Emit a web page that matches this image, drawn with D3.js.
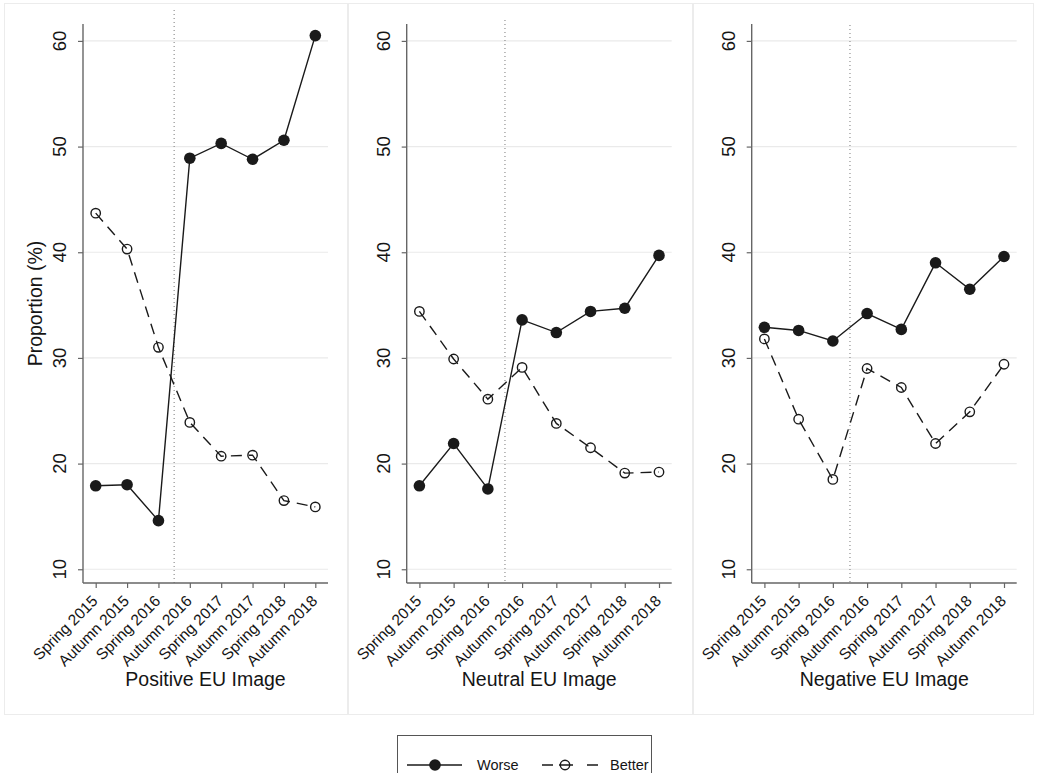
<!DOCTYPE html>
<html>
<head>
<meta charset="utf-8">
<script src="https://cdn.jsdelivr.net/npm/d3@7"></script>
<style>
  body { margin: 0; background: #ffffff; }
  text { font-family: "Liberation Sans", Arial, Helvetica, sans-serif; fill: #151515; }
</style>
</head>
<body>
<script>
// ---- Data ----
const periods = ["Spring 2015", "Autumn 2015", "Spring 2016", "Autumn 2016",
                 "Spring 2017", "Autumn 2017", "Spring 2018", "Autumn 2018"];
const panelTitles = ["Positive EU Image", "Neutral EU Image", "Negative EU Image"];
const worsePositive  = [17.9, 18.0, 14.6, 48.9, 50.3, 48.8, 50.6, 60.5];
const betterPositive = [43.7, 40.3, 31.0, 23.9, 20.7, 20.8, 16.5, 15.9];
const worseNeutral   = [17.9, 21.9, 17.6, 33.6, 32.4, 34.4, 34.7, 39.7];
const betterNeutral  = [34.4, 29.9, 26.1, 29.1, 23.8, 21.5, 19.1, 19.2];
const worseNegative  = [32.9, 32.6, 31.6, 34.2, 32.7, 39.0, 36.5, 39.6];
const betterNegative = [31.8, 24.2, 18.5, 29.0, 27.2, 21.9, 24.9, 29.4];
const yTicks = [10, 20, 30, 40, 50, 60];
const seriesNames = ["Worse", "Better"];
const yTitle = "Proportion (%)";

const worseSeries = [worsePositive, worseNeutral, worseNegative];
const betterSeries = [betterPositive, betterNeutral, betterNegative];

// ---- Layout ----
const W = 1038, H = 773;
const plotX = [[83, 328], [406.7, 671.7], [751.7, 1016.7]];
const panelBox = [[4, 3, 347, 714], [348, 3, 692, 714], [693, 3, 1033, 714]];
const dotTop = [10, 20, 25];
const plotTop = 24, plotBottom = 583;
const pad = 12.7;

const svg = d3.select("body").append("svg").attr("width", W).attr("height", H);

svg.append("rect").attr("x", 0).attr("y", 0).attr("width", W).attr("height", H).attr("fill", "#fff");

const y = d3.scaleLinear().domain([8.7, 61.6]).range([plotBottom, plotTop]);

panelTitles.forEach((title, i) => {
  const [bx0, by0, bx1, by1] = panelBox[i];
  svg.append("rect")
    .attr("x", bx0 + 0.5).attr("y", by0 + 0.5)
    .attr("width", bx1 - bx0).attr("height", by1 - by0)
    .attr("fill", "#fff").attr("stroke", "#ececec").attr("stroke-width", 1);

  const [x0, x1] = plotX[i];
  const x = d3.scalePoint().domain(periods).range([x0 + pad, x1 - pad]);
  const g = svg.append("g");

  // gridlines
  g.selectAll(".grid").data(yTicks).enter().append("line")
    .attr("x1", x0).attr("x2", x1)
    .attr("y1", d => y(d)).attr("y2", d => y(d))
    .attr("stroke", "#eaeaea").attr("stroke-width", 1.2);

  // dotted reference line between Spring 2016 and Autumn 2016
  const xm = (x(periods[2]) + x(periods[3])) / 2;
  g.append("line")
    .attr("x1", xm).attr("x2", xm).attr("y1", dotTop[i]).attr("y2", plotBottom)
    .attr("stroke", "#7a7a7a").attr("stroke-width", 1).attr("stroke-dasharray", "1,3");

  // y axis
  const yAxis = d3.axisLeft(y).tickValues(yTicks).tickSize(5).tickFormat("");
  const ya = g.append("g").attr("transform", `translate(${x0},0)`).call(yAxis);
  ya.select(".domain").remove();
  ya.selectAll(".tick line").attr("stroke", "#666").attr("stroke-width", 1.2);
  g.append("line").attr("x1", x0).attr("x2", x0).attr("y1", plotTop).attr("y2", plotBottom)
    .attr("stroke", "#666").attr("stroke-width", 1.4);
  g.selectAll(".ylab").data(yTicks).enter().append("text")
    .attr("transform", d => `translate(${x0 - 17},${y(d)}) rotate(-90)`)
    .attr("text-anchor", "middle")
    .style("font-size", "18.5px")
    .text(d => d);

  // x axis
  const xAxis = d3.axisBottom(x).tickSize(5).tickFormat("");
  const xa = g.append("g").attr("transform", `translate(0,${plotBottom})`).call(xAxis);
  xa.select(".domain").remove();
  xa.selectAll(".tick line").attr("stroke", "#666").attr("stroke-width", 1.2);
  g.append("line").attr("x1", x0).attr("x2", x1).attr("y1", plotBottom).attr("y2", plotBottom)
    .attr("stroke", "#666").attr("stroke-width", 1.4);
  g.selectAll(".xlab").data(periods).enter().append("text")
    .attr("transform", d => `translate(${x(d) + 3},${plotBottom + 19}) rotate(-45)`)
    .attr("text-anchor", "end")
    .style("font-size", "15.5px")
    .text(d => d);

  // x title
  g.append("text")
    .attr("x", (x0 + x1) / 2).attr("y", 686)
    .attr("text-anchor", "middle")
    .style("font-size", "19.5px")
    .text(title);

  const line = d3.line().x((d, j) => x(periods[j])).y(d => y(d));

  // Better (dashed, hollow)
  g.append("path").datum(betterSeries[i]).attr("d", line)
    .attr("fill", "none").attr("stroke", "#1a1a1a").attr("stroke-width", 1.4)
    .attr("stroke-dasharray", "11,7");
  g.selectAll(".bm").data(betterSeries[i]).enter().append("circle")
    .attr("cx", (d, j) => x(periods[j])).attr("cy", d => y(d)).attr("r", 4.7)
    .attr("fill", "none").attr("stroke", "#1a1a1a").attr("stroke-width", 1.4);

  // Worse (solid, filled)
  g.append("path").datum(worseSeries[i]).attr("d", line)
    .attr("fill", "none").attr("stroke", "#1a1a1a").attr("stroke-width", 1.4);
  g.selectAll(".wm").data(worseSeries[i]).enter().append("circle")
    .attr("cx", (d, j) => x(periods[j])).attr("cy", d => y(d)).attr("r", 5.8)
    .attr("fill", "#1a1a1a");
});

// y title
svg.append("text")
  .attr("transform", `translate(42,${(plotTop + plotBottom) / 2}) rotate(-90)`)
  .attr("text-anchor", "middle")
  .style("font-size", "19.5px")
  .text(yTitle);

// ---- Legend ----
const lg = svg.append("g");
lg.append("rect").attr("x", 397.5).attr("y", 735.5).attr("width", 254).attr("height", 60)
  .attr("fill", "#fff").attr("stroke", "#555").attr("stroke-width", 1);
const ly = 765;
lg.append("line").attr("x1", 407).attr("x2", 462).attr("y1", ly).attr("y2", ly)
  .attr("stroke", "#1a1a1a").attr("stroke-width", 1.4);
lg.append("circle").attr("cx", 435).attr("cy", ly).attr("r", 5.8).attr("fill", "#1a1a1a");
lg.append("text").attr("x", 477).attr("y", ly + 5).style("font-size", "14.5px").text(seriesNames[0]);
lg.append("line").attr("x1", 542).attr("x2", 598).attr("y1", ly).attr("y2", ly)
  .attr("stroke", "#1a1a1a").attr("stroke-width", 1.4).attr("stroke-dasharray", "11,6,14,14,11");
lg.append("circle").attr("cx", 565).attr("cy", ly).attr("r", 4.7)
  .attr("fill", "none").attr("stroke", "#1a1a1a").attr("stroke-width", 1.4);
lg.append("text").attr("x", 610).attr("y", ly + 5).style("font-size", "14.5px").text(seriesNames[1]);
</script>
</body>
</html>
